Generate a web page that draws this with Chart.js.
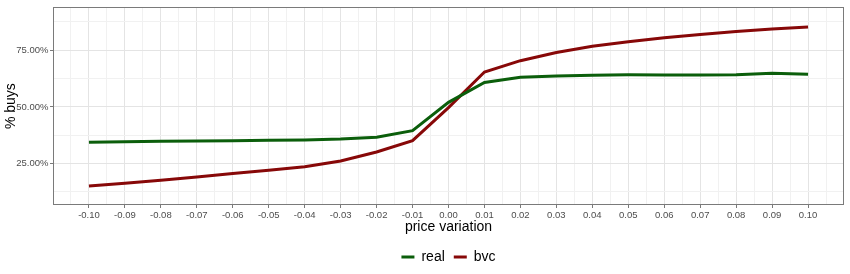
<!DOCTYPE html>
<html>
<head>
<meta charset="utf-8">
<script src="https://cdn.jsdelivr.net/npm/chart.js@4"></script>
<style>
  html, body { margin: 0; padding: 0; background: #fff; }
  #wrap { width: 850px; height: 274px; }
</style>
</head>
<body>
<div id="wrap"><canvas id="lineChart" width="850" height="274"></canvas></div>
<script>
// price variation (x) and % of buys for each series
var priceVariation = [-0.10, -0.09, -0.08, -0.07, -0.06, -0.05, -0.04, -0.03, -0.02, -0.01,
  0.00, 0.01, 0.02, 0.03, 0.04, 0.05, 0.06, 0.07, 0.08, 0.09, 0.10];
var realBuys = [34.4, 34.6, 34.8, 34.9, 35.1, 35.3, 35.4, 35.8, 36.6, 39.5,
  52.0, 60.8, 63.1, 63.6, 64.0, 64.2, 64.1, 64.1, 64.2, 64.8, 64.4];
var bvcBuys = [15.1, 16.3, 17.6, 19.1, 20.6, 22.0, 23.6, 26.1, 30.1, 35.1,
  49.7, 65.4, 70.4, 74.0, 76.8, 78.8, 80.5, 82.0, 83.3, 84.4, 85.3];

var yLabelTicks = [25, 50, 75];
var yGridTicks = [12.5, 25, 37.5, 50, 62.5, 75, 87.5];

var FONT = "'Liberation Sans', Arial, Helvetica, sans-serif";

function toPoints(vals) {
  return priceVariation.map(function (x, i) { return { x: x, y: vals[i] }; });
}

function isMajorX(v) {
  return Math.abs(Math.round(v * 200)) % 2 === 0;
}

// panel border all round (theme_bw look)
var panelBorder = {
  id: "panelBorder",
  afterDatasetsDraw: function (chart) {
    var a = chart.chartArea, c = chart.ctx;
    c.save();
    c.strokeStyle = "#7a7a7a";
    c.lineWidth = 1;
    c.strokeRect(Math.round(a.left) + 0.5, Math.round(a.top) + 0.5,
      Math.round(a.right - a.left) - 1, Math.round(a.bottom - a.top) - 1);
    c.restore();
  },
};

var ctx = document.getElementById("lineChart").getContext("2d");

var myChart = new Chart(ctx, {
  type: "line",
  data: {
    datasets: [
      {
        label: "real",
        data: toPoints(realBuys),
        borderColor: "#0b5e0b",
        backgroundColor: "#0b5e0b",
        borderWidth: 3,
        pointRadius: 0,
        tension: 0,
        fill: false,
      },
      {
        label: "bvc",
        data: toPoints(bvcBuys),
        borderColor: "#870808",
        backgroundColor: "#870808",
        borderWidth: 3,
        pointRadius: 0,
        tension: 0,
        fill: false,
      },
    ],
  },
  options: {
    responsive: false,
    animation: false,
    devicePixelRatio: 1,
    layout: { padding: { top: 5, right: 6, left: 0, bottom: 0 } },
    plugins: {
      legend: {
        position: "bottom",
        fullSize: false,
        labels: {
          usePointStyle: true,
          pointStyle: "line",
          pointStyleWidth: 13,
          padding: 9,
          color: "#000",
          font: { family: FONT, size: 14 },
        },
      },
      tooltip: { enabled: false },
    },
    scales: {
      x: {
        type: "linear",
        min: -0.11,
        max: 0.11,
        afterBuildTicks: function (scale) {
          var t = [];
          for (var k = -21; k <= 21; k++) t.push({ value: k / 200 });
          scale.ticks = t;
        },
        afterFit: function (scale) { scale.height = 36; },
        border: { display: false },
        grid: {
          color: function (c) { return c.tick && isMajorX(c.tick.value) ? "#e4e4e4" : "#f1f1f1"; },
          lineWidth: 1,
          tickLength: 3,
          tickColor: function (c) { return c.tick && isMajorX(c.tick.value) ? "#7a7a7a" : "rgba(0,0,0,0)"; },
        },
        ticks: {
          autoSkip: false,
          maxRotation: 0,
          padding: 2,
          color: "#4d4d4d",
          font: { family: FONT, size: 9.5 },
          callback: function (v) { return isMajorX(v) ? (Math.round(v * 100) / 100).toFixed(2) : ""; },
        },
        title: {
          display: true,
          text: "price variation",
          color: "#000",
          font: { family: FONT, size: 14 },
          padding: { top: 0, bottom: 5 },
        },
      },
      y: {
        min: 6.7,
        max: 94,
        afterBuildTicks: function (scale) {
          scale.ticks = yGridTicks.map(function (v) { return { value: v }; });
        },
        afterFit: function (scale) { scale.width = 53; },
        border: { display: false },
        grid: {
          color: function (c) { return c.tick && yLabelTicks.indexOf(c.tick.value) >= 0 ? "#e4e4e4" : "#f1f1f1"; },
          lineWidth: 1,
          tickLength: 3,
          tickColor: function (c) { return c.tick && yLabelTicks.indexOf(c.tick.value) >= 0 ? "#7a7a7a" : "rgba(0,0,0,0)"; },
        },
        ticks: {
          autoSkip: false,
          padding: 1.5,
          color: "#4d4d4d",
          font: { family: FONT, size: 9.5 },
          callback: function (v) { return yLabelTicks.indexOf(v) >= 0 ? v.toFixed(2) + "%" : ""; },
        },
        title: {
          display: true,
          text: "% buys",
          color: "#000",
          font: { family: FONT, size: 14 },
          padding: { top: 2.5, bottom: 0 },
        },
      },
    },
  },
  plugins: [panelBorder],
});
</script>
</body>
</html>
